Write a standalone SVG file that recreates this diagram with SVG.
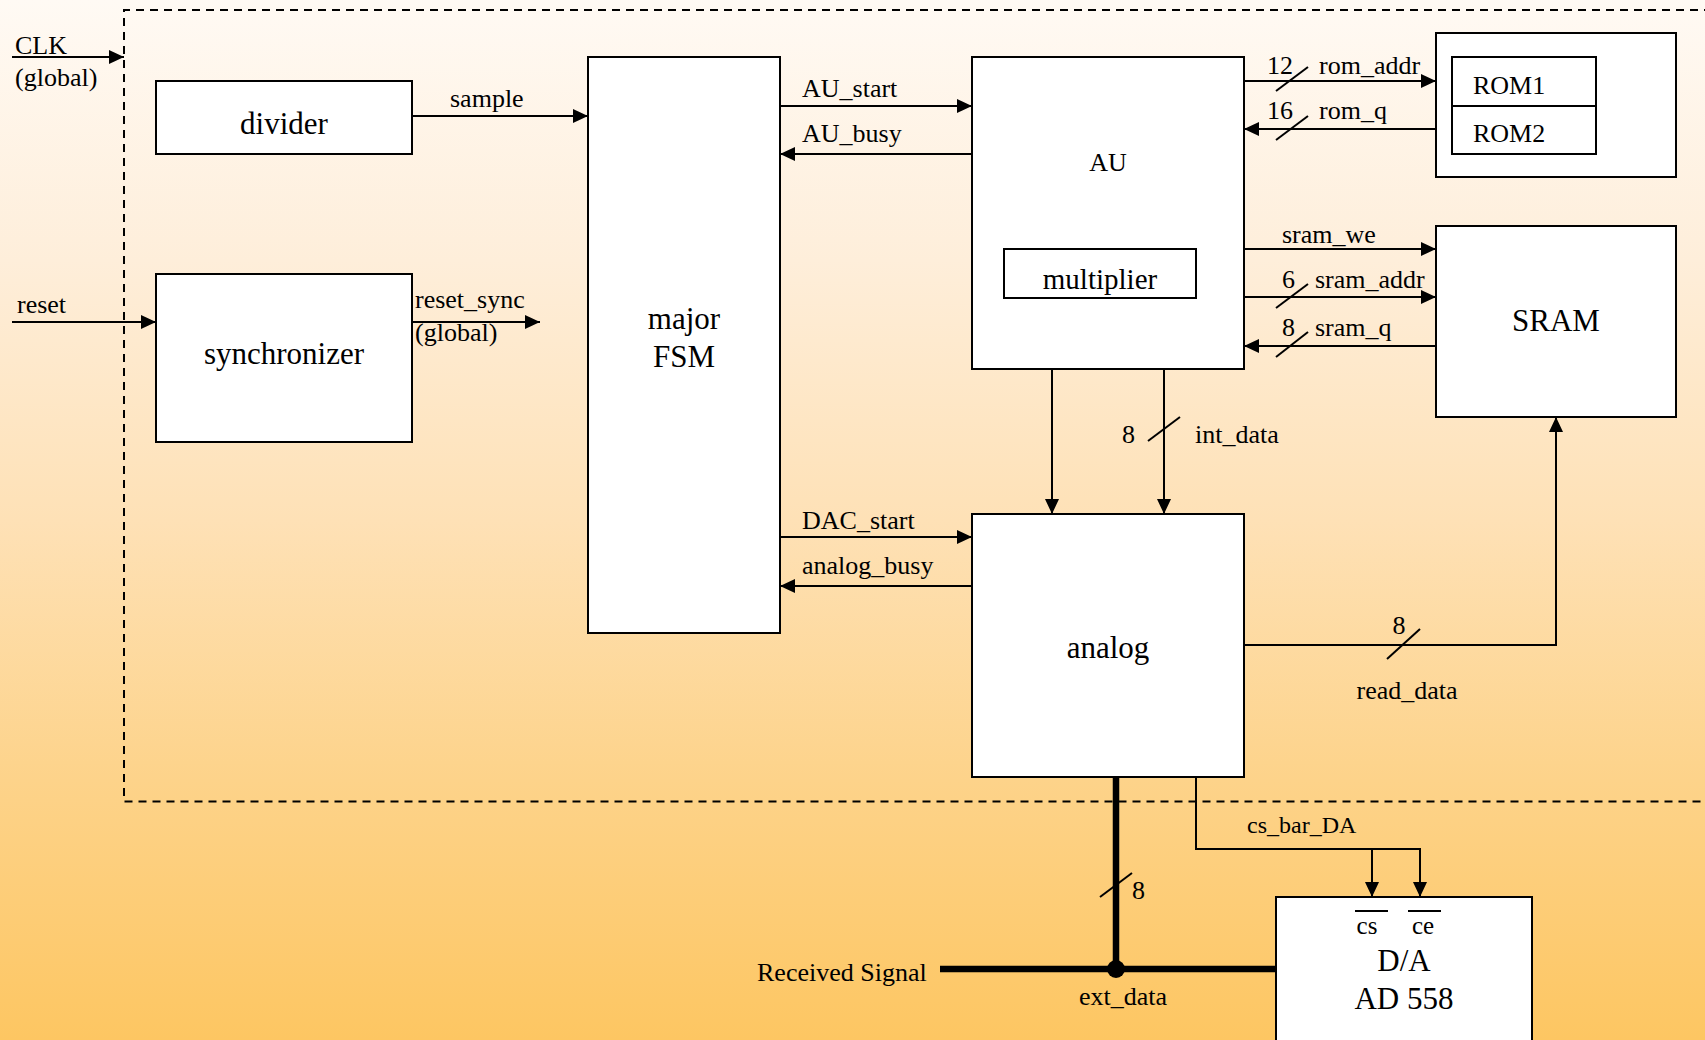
<svg xmlns="http://www.w3.org/2000/svg" width="1705" height="1040" viewBox="0 0 1705 1040">
<defs>
<linearGradient id="bg" x1="0" y1="0" x2="0" y2="1">
<stop offset="0" stop-color="#FFFAF4"/>
<stop offset="0.25" stop-color="#FEEEDA"/>
<stop offset="0.5" stop-color="#FEE1B6"/>
<stop offset="0.75" stop-color="#FDD38A"/>
<stop offset="1" stop-color="#FDC662"/>
</linearGradient>
<marker id="arr" markerUnits="userSpaceOnUse" markerWidth="16" markerHeight="15" refX="15" refY="7" orient="auto">
<path d="M0,0 L15,7 L0,14 z" fill="#000"/>
</marker>
<style>
.box{fill:#fff;stroke:#000;stroke-width:2}
.ln{fill:none;stroke:#000;stroke-width:2}
.thick{fill:none;stroke:#000;stroke-width:6.5}
.dash{fill:none;stroke:#000;stroke-width:2;stroke-dasharray:8,6}
text{font-family:"Liberation Serif","Times New Roman",serif;fill:#000}
.big{font-size:31px;text-anchor:middle}
.lbl{font-size:26px}
.mid{text-anchor:middle}
.sm{font-size:24px}
</style>
</defs>
<rect x="0" y="0" width="1705" height="1040" fill="url(#bg)"/>
<path class="dash" d="M1712,10 H124 V801.5 H1712"/>

<g id="divider"><rect class="box" x="156" y="81" width="256" height="73"/><text class="big" x="284" y="134">divider</text></g>
<g id="synchronizer"><rect class="box" x="156" y="274" width="256" height="168"/><text class="big" x="284" y="364">synchronizer</text></g>
<g id="fsm"><rect class="box" x="588" y="57" width="192" height="576"/><text class="big" x="684" y="329">major</text><text class="big" x="684" y="367">FSM</text></g>
<g id="au"><rect class="box" x="972" y="57" width="272" height="312"/><text class="lbl mid" x="1108" y="171">AU</text></g>
<g id="multiplier"><rect class="box" x="1004" y="249" width="192" height="49"/><text class="lbl mid" x="1100" y="289" style="font-size:29px">multiplier</text></g>
<g id="rom"><rect class="box" x="1436" y="33" width="240" height="144"/></g>
<g id="rom1"><rect class="box" x="1452" y="57" width="144" height="49"/><text class="lbl" x="1473" y="94">ROM1</text></g>
<g id="rom2"><rect class="box" x="1452" y="106" width="144" height="48"/><text class="lbl" x="1473" y="142">ROM2</text></g>
<g id="sram"><rect class="box" x="1436" y="226" width="240" height="191"/><text class="big" x="1556" y="331">SRAM</text></g>
<g id="analog"><rect class="box" x="972" y="514" width="272" height="263"/><text class="big" x="1108" y="658">analog</text></g>
<g id="da"><rect class="box" x="1276" y="897" width="256" height="160"/>
<text class="lbl mid" x="1367" y="934" style="font-size:25px">cs</text><text class="lbl mid" x="1423" y="934" style="font-size:25px">ce</text>
<line class="ln" x1="1355" y1="911" x2="1388" y2="911"/><line class="ln" x1="1408" y1="911" x2="1441" y2="911"/>
<text class="big" x="1404" y="971">D/A</text><text class="big" x="1404" y="1009">AD 558</text></g>

<g id="connectors">
<line class="ln" x1="12" y1="57" x2="124" y2="57" marker-end="url(#arr)"/>
<line class="ln" x1="12" y1="322" x2="156" y2="322" marker-end="url(#arr)"/>
<line class="ln" x1="412" y1="322" x2="540" y2="322" marker-end="url(#arr)"/>
<line class="ln" x1="412" y1="116" x2="588" y2="116" marker-end="url(#arr)"/>
<line class="ln" x1="780" y1="106" x2="972" y2="106" marker-end="url(#arr)"/>
<line class="ln" x1="972" y1="154" x2="780" y2="154" marker-end="url(#arr)"/>
<line class="ln" x1="780" y1="537" x2="972" y2="537" marker-end="url(#arr)"/>
<line class="ln" x1="972" y1="586" x2="780" y2="586" marker-end="url(#arr)"/>
<line class="ln" x1="1244" y1="81" x2="1436" y2="81" marker-end="url(#arr)"/>
<line class="ln" x1="1436" y1="129" x2="1244" y2="129" marker-end="url(#arr)"/>
<line class="ln" x1="1244" y1="249" x2="1436" y2="249" marker-end="url(#arr)"/>
<line class="ln" x1="1244" y1="297" x2="1436" y2="297" marker-end="url(#arr)"/>
<line class="ln" x1="1436" y1="346" x2="1244" y2="346" marker-end="url(#arr)"/>
<line class="ln" x1="1052" y1="369" x2="1052" y2="514" marker-end="url(#arr)"/>
<line class="ln" x1="1164" y1="369" x2="1164" y2="514" marker-end="url(#arr)"/>
<path class="ln" d="M1244,645 H1556 V417" marker-end="url(#arr)"/>
<path class="ln" d="M1196,777 V849 H1420 V897" marker-end="url(#arr)"/>
<line class="ln" x1="1372" y1="849" x2="1372" y2="897" marker-end="url(#arr)"/>
<line class="thick" x1="1116" y1="777" x2="1116" y2="969"/>
<line class="thick" x1="940" y1="969" x2="1276" y2="969"/>
<circle cx="1116" cy="969" r="9" fill="#000"/>
<line class="ln" x1="1276" y1="91" x2="1308" y2="67"/>
<line class="ln" x1="1276" y1="140" x2="1308" y2="116"/>
<line class="ln" x1="1276" y1="308" x2="1308" y2="284"/>
<line class="ln" x1="1276" y1="357" x2="1308" y2="332"/>
<line class="ln" x1="1148" y1="441" x2="1180" y2="417"/>
<line class="ln" x1="1387" y1="659" x2="1420" y2="629"/>
<line class="ln" x1="1100" y1="897" x2="1132" y2="873"/>
</g>

<g id="labels">
<text class="lbl" x="15" y="54">CLK</text>
<text class="lbl" x="15" y="86">(global)</text>
<text class="lbl" x="17" y="313">reset</text>
<text class="lbl" x="415" y="308">reset_sync</text>
<text class="lbl" x="415" y="341">(global)</text>
<text class="lbl" x="450" y="107">sample</text>
<text class="lbl" x="802" y="97">AU_start</text>
<text class="lbl" x="802" y="142">AU_busy</text>
<text class="lbl" x="802" y="529">DAC_start</text>
<text class="lbl" x="802" y="574">analog_busy</text>
<text class="lbl" x="1267" y="74">12</text>
<text class="lbl" x="1319" y="74">rom_addr</text>
<text class="lbl" x="1267" y="119">16</text>
<text class="lbl" x="1319" y="119">rom_q</text>
<text class="lbl" x="1282" y="243">sram_we</text>
<text class="lbl" x="1282" y="288">6</text>
<text class="lbl" x="1315" y="288">sram_addr</text>
<text class="lbl" x="1282" y="336">8</text>
<text class="lbl" x="1315" y="336">sram_q</text>
<text class="lbl" x="1122" y="443">8</text>
<text class="lbl" x="1195" y="443">int_data</text>
<text class="lbl mid" x="1399" y="634">8</text>
<text class="lbl mid" x="1407" y="699">read_data</text>
<text class="sm" x="1247" y="833">cs_bar_DA</text>
<text class="lbl" x="1132" y="899">8</text>
<text class="lbl" x="757" y="981">Received Signal</text>
<text class="lbl mid" x="1123" y="1005">ext_data</text>
</g>
</svg>
